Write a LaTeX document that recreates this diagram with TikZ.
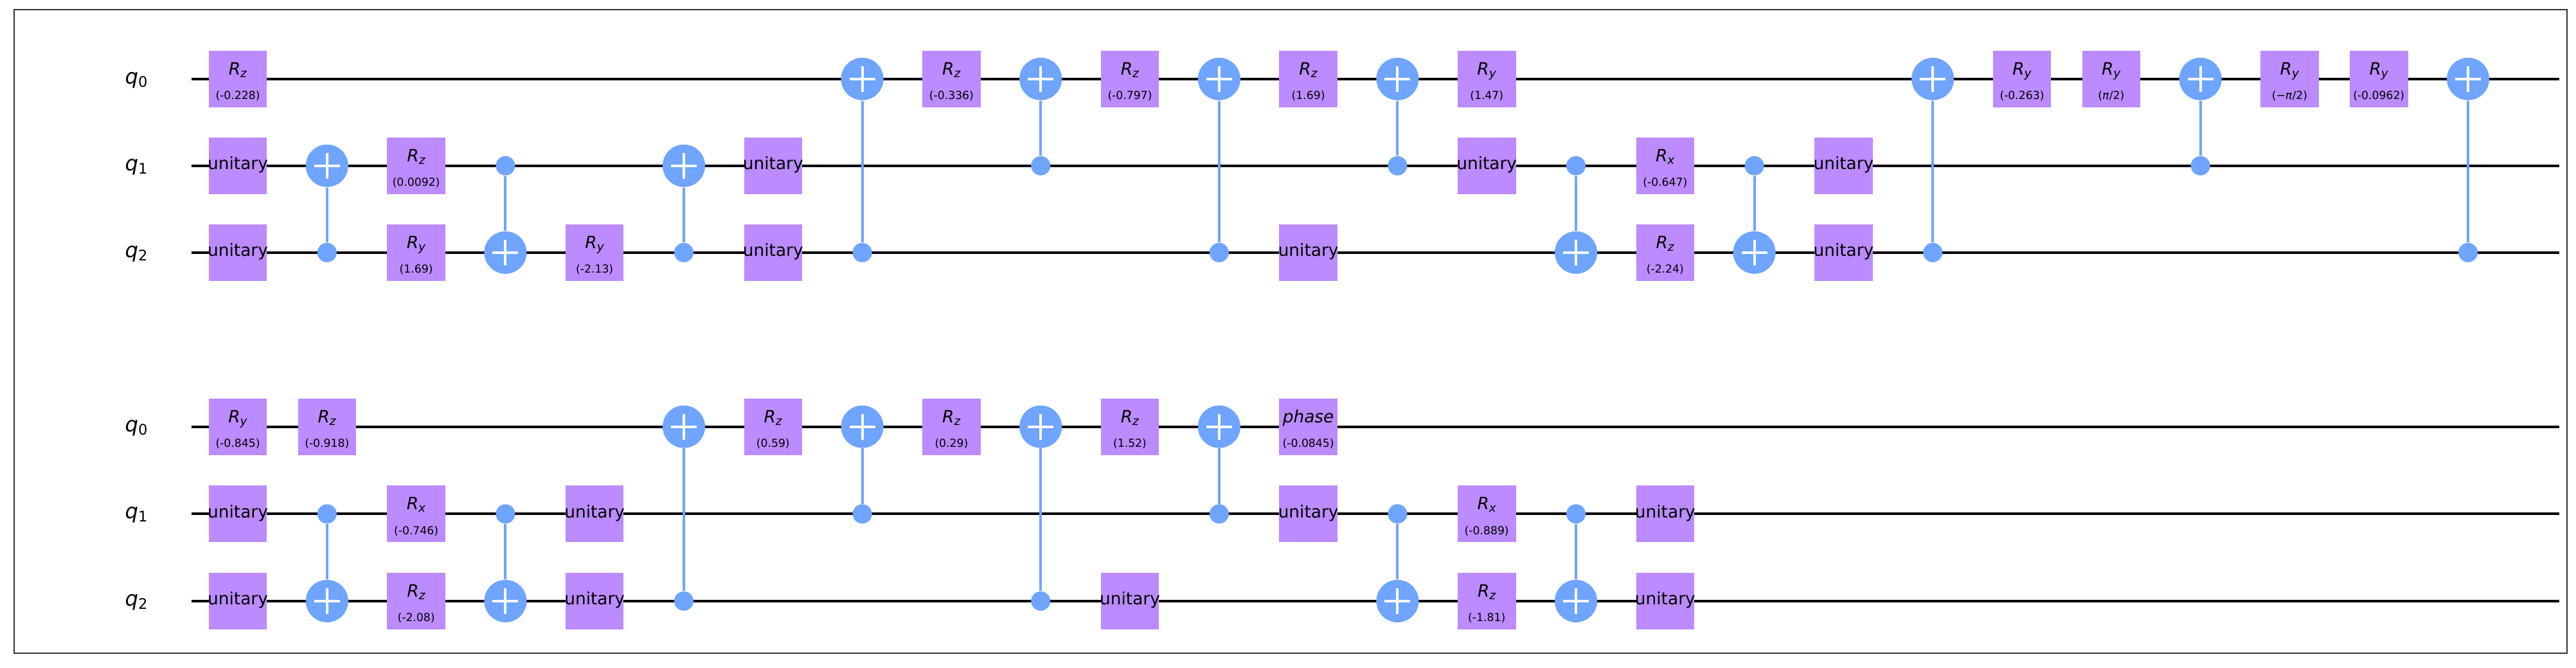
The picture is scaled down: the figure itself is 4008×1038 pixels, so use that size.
\documentclass[tikz,border=0pt]{standalone}
\usepackage{fontspec}
\setmainfont{DejaVu Sans}
\usetikzlibrary{positioning}

\newcommand{\gsym}[2]{\textit{#1}\raisebox{-0.15em}{\scalebox{0.7}{\textit{#2}}}}
\newcommand{\qlab}[1]{\textit{q}\raisebox{-0.15em}{\scalebox{0.7}{#1}}}

\definecolor{gatepurple}{HTML}{BB8BFF}
\definecolor{cxblue}{HTML}{6FA4FF}
\definecolor{framegray}{HTML}{333333}

\begin{document}
\begin{tikzpicture}[
    x=0.01cm, y=-0.01cm,
    framebox/.style={framegray, line width=0.02cm},
    wire/.style={black, line width=0.04cm},
    cxline/.style={cxblue, line width=0.04cm},
    plusbar/.style={white, line width=0.04cm},
    gatebox/.style={fill=gatepurple, minimum width=0.905cm, minimum height=0.88cm, inner sep=0pt},
    target/.style={circle, fill=cxblue, minimum size=0.66cm, inner sep=0pt},
    control/.style={circle, fill=cxblue, minimum size=0.30cm, inner sep=0pt},
    gatename/.style={anchor=base, inner sep=0pt, font=\fontsize{7.5}{9}\selectfont},
    gateparam/.style={anchor=base, inner sep=0pt, font=\fontsize{4.9}{6}\selectfont},
    qubit/.style={anchor=base, inner sep=0pt, font=\fontsize{9.2}{11}\selectfont}
  ]

    \useasboundingbox (0,0) rectangle (4008,1038);
    \draw[framebox] (22,15) rectangle (3994,1016);

    % Upper row, then lower row
    \begin{scope}[shift={(0,122.8)}]
      % Wires and qubit names
      \foreach \w in {0,1,2} {
        \coordinate (a-in\w) at (298,135*\w);
        \coordinate (a-out\w) at (3982,135*\w);
        \draw[wire] (a-in\w) -- (a-out\w);
        \node[qubit] (a-q\w) at (212,135*\w+7.5) {\qlab{\w}};
      }

      % Rotation gates
      \foreach \col/\w/\nm/\val in {0/0/{\gsym{R}{z}}/-0.228, 2/1/{\gsym{R}{z}}/0.0092, 2/2/{\gsym{R}{y}}/1.69,
          4/2/{\gsym{R}{y}}/-2.13, 8/0/{\gsym{R}{z}}/-0.336, 10/0/{\gsym{R}{z}}/-0.797, 12/0/{\gsym{R}{z}}/1.69,
          14/0/{\gsym{R}{y}}/1.47, 16/1/{\gsym{R}{x}}/-0.647, 16/2/{\gsym{R}{z}}/-2.24, 20/0/{\gsym{R}{y}}/-0.263,
          21/0/{\gsym{R}{y}}/{\textit{π}/2}, 23/0/{\gsym{R}{y}}/{−\textit{π}/2}, 24/0/{\gsym{R}{y}}/-0.0962} {
        \node[gatebox] (a-g\col-\w) at (370+138.8*\col,135*\w) {};
        \node[gatename] (a-n\col-\w) at (370+138.8*\col,135*\w-6.5) {\nm};
        \node[gateparam] (a-p\col-\w) at (370+138.8*\col,135*\w+32) {(\val)};
      }

      % Unitary gates
      \foreach \col/\w in {0/1, 0/2, 6/1, 6/2, 12/2, 14/1, 18/1, 18/2} {
        \node[gatebox] (a-u\col-\w) at (370+138.8*\col,135*\w) {};
        \node[gatename] (a-t\col-\w) at (370+138.8*\col,135*\w+6) {unitary};
      }

      % CNOT: target wire, control wire
      \foreach \col/\t/\c in {1/1/2, 3/2/1, 5/1/2, 7/0/2, 9/0/1, 11/0/2, 13/0/1, 15/2/1, 17/2/1, 19/0/2, 22/0/1, 25/0/2} {
        \node[target] (a-x\col) at (370+138.8*\col,135*\t) {};
        \node[control] (a-c\col) at (370+138.8*\col,135*\c) {};
        \draw[cxline] (a-x\col) -- (a-c\col);
        \draw[plusbar] (a-x\col.center) ++(-20,0) -- ++(40,0);
        \draw[plusbar] (a-x\col.center) ++(0,-20) -- ++(0,40);
      }
    \end{scope}

    \begin{scope}[shift={(0,663.7)}]
      % Wires and qubit names
      \foreach \w in {0,1,2} {
        \coordinate (b-in\w) at (298,135.6*\w);
        \coordinate (b-out\w) at (3982,135.6*\w);
        \draw[wire] (b-in\w) -- (b-out\w);
        \node[qubit] (b-q\w) at (212,135.6*\w+7.5) {\qlab{\w}};
      }

      % Rotation gates and the phase gate
      \foreach \col/\w/\nm/\val in {0/0/{\gsym{R}{y}}/-0.845, 1/0/{\gsym{R}{z}}/-0.918, 2/1/{\gsym{R}{x}}/-0.746,
          2/2/{\gsym{R}{z}}/-2.08, 6/0/{\gsym{R}{z}}/0.59, 8/0/{\gsym{R}{z}}/0.29, 10/0/{\gsym{R}{z}}/1.52,
          12/0/{\textit{phase}}/-0.0845, 14/1/{\gsym{R}{x}}/-0.889, 14/2/{\gsym{R}{z}}/-1.81} {
        \node[gatebox] (b-g\col-\w) at (370+138.8*\col,135.6*\w) {};
        \node[gatename] (b-n\col-\w) at (370+138.8*\col,135.6*\w-6.5) {\nm};
        \node[gateparam] (b-p\col-\w) at (370+138.8*\col,135.6*\w+32) {(\val)};
      }

      % Unitary gates
      \foreach \col/\w in {0/1, 0/2, 4/1, 4/2, 10/2, 12/1, 16/1, 16/2} {
        \node[gatebox] (b-u\col-\w) at (370+138.8*\col,135.6*\w) {};
        \node[gatename] (b-t\col-\w) at (370+138.8*\col,135.6*\w+6) {unitary};
      }

      % CNOT: target wire, control wire
      \foreach \col/\t/\c in {1/2/1, 3/2/1, 5/0/2, 7/0/1, 9/0/2, 11/0/1, 13/2/1, 15/2/1} {
        \node[target] (b-x\col) at (370+138.8*\col,135.6*\t) {};
        \node[control] (b-c\col) at (370+138.8*\col,135.6*\c) {};
        \draw[cxline] (b-x\col) -- (b-c\col);
        \draw[plusbar] (b-x\col.center) ++(-20,0) -- ++(40,0);
        \draw[plusbar] (b-x\col.center) ++(0,-20) -- ++(0,40);
      }
    \end{scope}

  \end{tikzpicture}
\end{document}
